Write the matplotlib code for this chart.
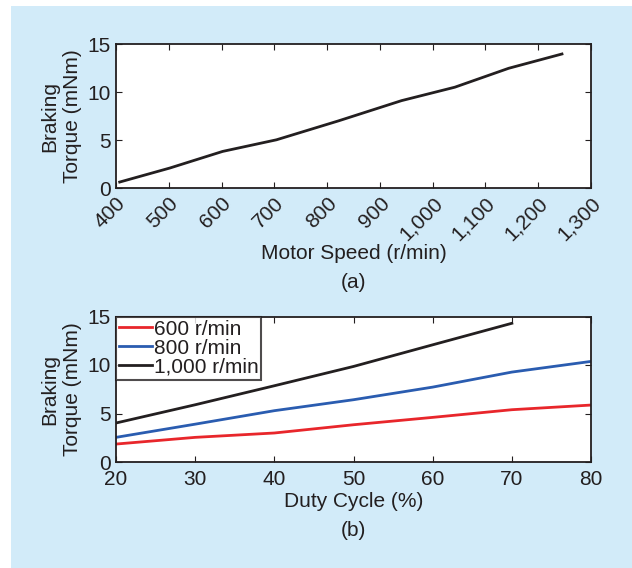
import matplotlib
matplotlib.use("Agg")
import matplotlib.pyplot as plt
from matplotlib.patches import Rectangle

plt.rcParams['font.family'] = ['Liberation Sans', 'DejaVu Sans']

# Panel (a) data
speed = [407, 502, 602, 704, 822, 941, 1042, 1144, 1245]
torque_a = [0.62, 2.08, 3.81, 5.02, 7.0, 9.1, 10.5, 12.47, 13.96]
speed_ticks = [400, 500, 600, 700, 800, 900, 1000, 1100, 1200, 1300]
speed_labels = ['400', '500', '600', '700', '800', '900', '1,000', '1,100', '1,200', '1,300']

# Panel (b) data
duty = [20, 30, 40, 50, 60, 70, 80]
t600 = [1.85, 2.54, 2.99, 3.84, 4.6, 5.39, 5.87]
t800 = [2.54, 3.9, 5.29, 6.42, 7.72, 9.27, 10.37]
duty_1000 = [20, 30, 40, 50, 60, 70]
t1000 = [4.02, 5.9, 7.86, 9.85, 12.08, 14.3]
series_labels = ['600 r/min', '800 r/min', '1,000 r/min']
series_colors = ['#e8262b', '#2a5cb0', '#231f20']

txt = '#231f20'
FS = 15
W, H = 632, 568
fig = plt.figure(figsize=(W/100, H/100), dpi=100)
fig.patch.set_facecolor('white')
fig.patches.append(Rectangle((11/W, 0), 1 - 11/W, 1 - 6/H, transform=fig.transFigure,
                             facecolor='#d2ebf9', edgecolor='none', zorder=-10))

def style(ax):
    ax.set_facecolor('white')
    for s in ax.spines.values():
        s.set_linewidth(1.3)
        s.set_color(txt)
    ax.tick_params(direction='in', top=True, right=True, length=4, width=0.8,
                   labelsize=FS, colors=txt, pad=4)
    ax.set_ylim(0, 15)
    ax.set_yticks([0, 5, 10, 15])
    ax.set_ylabel('Braking\nTorque (mNm)', fontsize=FS, color=txt, labelpad=4,
                  linespacing=1.25)

ax1 = fig.add_axes([116/W, 1 - 188/H, 475/W, 144/H])
style(ax1)
ax1.plot(speed, torque_a, color=txt, lw=2)
ax1.set_xlim(400, 1300)
ax1.set_xticks(speed_ticks)
ax1.set_xticklabels(speed_labels, rotation=45, ha='right', va='top',
                    rotation_mode='anchor')
ax1.set_xlabel('Motor Speed (r/min)', fontsize=FS, color=txt, labelpad=0)
fig.text(0.5 * (116 + 591) / W, 1 - 283 / H, '(a)', ha='center', va='center',
         fontsize=FS, color=txt)

ax2 = fig.add_axes([116/W, 1 - 462/H, 475/W, 145.5/H])
style(ax2)
ax2.tick_params(axis='x', pad=6)
ax2.plot(duty, t600, color=series_colors[0], lw=2, label=series_labels[0])
ax2.plot(duty, t800, color=series_colors[1], lw=2, label=series_labels[1])
ax2.plot(duty_1000, t1000, color=series_colors[2], lw=2, label=series_labels[2])
ax2.set_xlim(20, 80)
ax2.set_xticks(duty)
ax2.set_xlabel('Duty Cycle (%)', fontsize=FS, color=txt, labelpad=2)
leg = ax2.legend(loc='upper left', borderaxespad=0, fontsize=FS, frameon=True,
                 fancybox=False, handlelength=1.6, handletextpad=0.05,
                 borderpad=0.15, labelspacing=0.0)
leg.get_frame().set_edgecolor(txt)
leg.get_frame().set_linewidth(1.5)
for t in leg.get_texts():
    t.set_color(txt)
fig.text(0.5 * (116 + 591) / W, 1 - 530 / H, '(b)', ha='center', va='center',
         fontsize=FS, color=txt)

fig.savefig('out.png', dpi=100)
